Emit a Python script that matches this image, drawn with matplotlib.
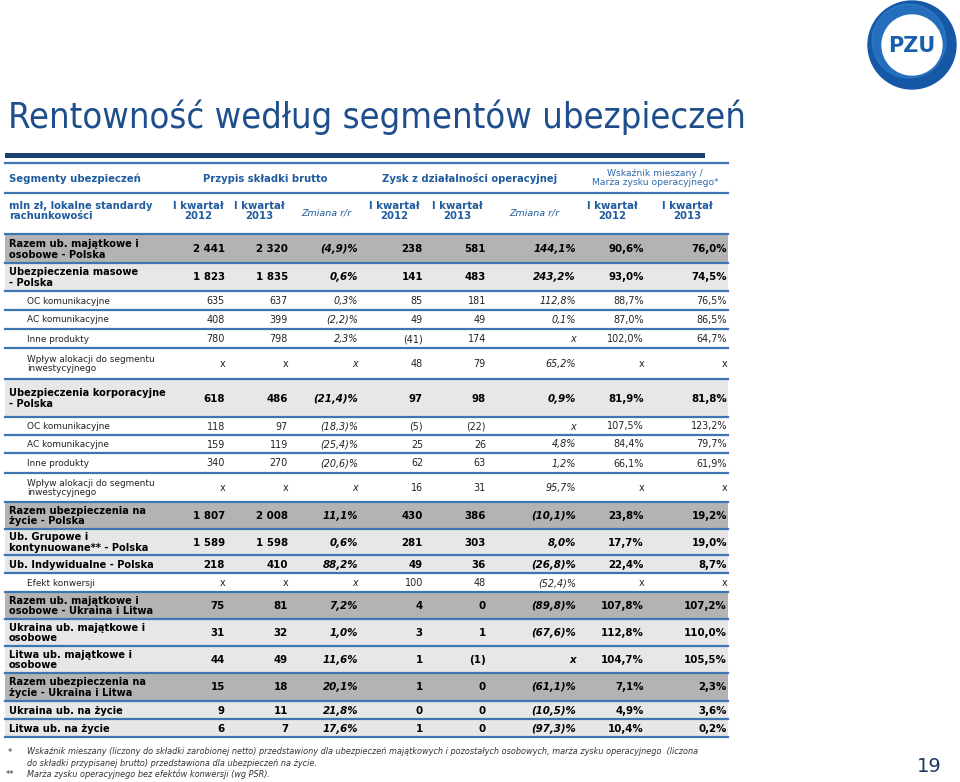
import matplotlib.pyplot as plt
from matplotlib.patches import Rectangle, Circle

# Dane tabeli
labels = [
    "Razem ub. majątkowe i\nosobowe - Polska",
    "Ubezpieczenia masowe\n- Polska",
    "OC komunikacyjne",
    "AC komunikacyjne",
    "Inne produkty",
    "Wpływ alokacji do segmentu\ninwestycyjnego",
    "Ubezpieczenia korporacyjne\n- Polska",
    "OC komunikacyjne",
    "AC komunikacyjne",
    "Inne produkty",
    "Wpływ alokacji do segmentu\ninwestycyjnego",
    "Razem ubezpieczenia na\nżycie - Polska",
    "Ub. Grupowe i\nkontynuowane** - Polska",
    "Ub. Indywidualne - Polska",
    "Efekt konwersji",
    "Razem ub. majątkowe i\nosobowe - Ukraina i Litwa",
    "Ukraina ub. majątkowe i\nosobowe",
    "Litwa ub. majątkowe i\nosobowe",
    "Razem ubezpieczenia na\nżycie - Ukraina i Litwa",
    "Ukraina ub. na życie",
    "Litwa ub. na życie",
]
skladka_2012 = ["2 441", "1 823", "635", "408", "780", "x", "618", "118", "159", "340", "x",
                "1 807", "1 589", "218", "x", "75", "31", "44", "15", "9", "6"]
skladka_2013 = ["2 320", "1 835", "637", "399", "798", "x", "486", "97", "119", "270", "x",
                "2 008", "1 598", "410", "x", "81", "32", "49", "18", "11", "7"]
skladka_zmiana = ["(4,9)%", "0,6%", "0,3%", "(2,2)%", "2,3%", "x", "(21,4)%", "(18,3)%", "(25,4)%",
                  "(20,6)%", "x", "11,1%", "0,6%", "88,2%", "x", "7,2%", "1,0%", "11,6%", "20,1%",
                  "21,8%", "17,6%"]
zysk_2012 = ["238", "141", "85", "49", "(41)", "48", "97", "(5)", "25", "62", "16",
             "430", "281", "49", "100", "4", "3", "1", "1", "0", "1"]
zysk_2013 = ["581", "483", "181", "49", "174", "79", "98", "(22)", "26", "63", "31",
             "386", "303", "36", "48", "0", "1", "(1)", "0", "0", "0"]
zysk_zmiana = ["144,1%", "243,2%", "112,8%", "0,1%", "x", "65,2%", "0,9%", "x", "4,8%", "1,2%",
               "95,7%", "(10,1)%", "8,0%", "(26,8)%", "(52,4)%", "(89,8)%", "(67,6)%", "x",
               "(61,1)%", "(10,5)%", "(97,3)%"]
wskaznik_2012 = ["90,6%", "93,0%", "88,7%", "87,0%", "102,0%", "x", "81,9%", "107,5%", "84,4%",
                 "66,1%", "x", "23,8%", "17,7%", "22,4%", "x", "107,8%", "112,8%", "104,7%",
                 "7,1%", "4,9%", "10,4%"]
wskaznik_2013 = ["76,0%", "74,5%", "76,5%", "86,5%", "64,7%", "x", "81,8%", "123,2%", "79,7%",
                 "61,9%", "x", "19,2%", "19,0%", "8,7%", "x", "107,2%", "110,0%", "105,5%",
                 "2,3%", "3,6%", "0,2%"]
# typ wiersza: d = suma (ciemne tło), l = segment (jasne tło), s = podpozycja
row_type = ["d", "l", "s", "s", "s", "s", "l", "s", "s", "s", "s",
            "d", "l", "l", "s", "d", "l", "l", "d", "l", "l"]

# Układ (piksele)
row_tops = [235, 263, 291, 310, 329, 348, 379, 417, 435, 453, 473,
            502, 529, 555, 573, 592, 619, 646, 673, 701, 719, 737]
col_right = [225, 288, 358, 423, 486, 576, 644, 727]
columns = [skladka_2012, skladka_2013, skladka_zmiana, zysk_2012, zysk_2013, zysk_zmiana,
           wskaznik_2012, wskaznik_2013]

DARK = "#b3b3b3"
LIGHT = "#e7e7e7"
LINE = "#3e76b4"
HEAD = "#1f5b9e"
NAVY = "#1b3f73"

fig = plt.figure(figsize=(9.6, 7.82), dpi=100)
ax = fig.add_axes([0, 0, 1, 1])
ax.set_xlim(0, 960)
ax.set_ylim(782, 0)
ax.axis("off")

# Tytuł
ax.text(8, 128, "Rentowność według segmentów ubezpieczeń", fontsize=26, color="#1f4e8c",
        va="baseline", ha="left", family="DejaVu Sans", fontstretch="condensed")

# Logo PZU
ax.add_patch(Circle((912, 45), 44, color="#1558a6"))
ax.add_patch(Circle((909, 41), 37, color="#3a8bd6", alpha=0.45))
ax.add_patch(Circle((912, 45), 30, color="white"))
ax.text(912, 46, "PZU", fontsize=15, fontweight="bold", color="#1a5fae", ha="center", va="center")

# Nagłówek
ax.add_patch(Rectangle((5, 153), 700, 5, color=NAVY, lw=0))
for y in (163, 193, 234):
    ax.plot([5, 728], [y, y], color=LINE, lw=1.6)

ax.text(9, 179, "Segmenty ubezpieczeń", fontsize=7.3, fontweight="bold", color=HEAD, va="center")
ax.text(265, 179, "Przypis składki brutto", fontsize=7.2, fontweight="bold", color=HEAD,
        va="center", ha="center")
ax.text(470, 179, "Zysk z działalności operacyjnej", fontsize=7.2, fontweight="bold", color=HEAD,
        va="center", ha="center")
ax.text(655, 178, "Wskaźnik mieszany /\nMarża zysku operacyjnego*", fontsize=6.6, color="#2e69a8",
        va="center", ha="center", linespacing=1.05)
ax.text(9, 211, "mln zł, lokalne standardy\nrachunkowości", fontsize=7.2, fontweight="bold",
        color=HEAD, va="center", linespacing=1.1)
sub_heads = [(198, "I kwartał\n2012"), (259, "I kwartał\n2013"), (326, "Zmiana r/r"),
             (394, "I kwartał\n2012"), (457, "I kwartał\n2013"), (534, "Zmiana r/r"),
             (612, "I kwartał\n2012"), (687, "I kwartał\n2013")]
for x, t in sub_heads:
    if t.startswith("Zmiana"):
        ax.text(x, 213, t, fontsize=6.8, style="italic", color=HEAD, ha="center", va="center")
    else:
        ax.text(x, 211, t, fontsize=7.3, fontweight="bold", color=HEAD, ha="center", va="center",
                linespacing=1.1)

# Wiersze tabeli
for i, lab in enumerate(labels):
    top, bot = row_tops[i], row_tops[i + 1]
    yc = (top + bot) / 2 + 0.5
    kind = row_type[i]
    if kind == "d":
        ax.add_patch(Rectangle((5, top), 723, bot - top, color=DARK, lw=0))
    elif kind == "l":
        ax.add_patch(Rectangle((5, top), 723, bot - top, color=LIGHT, lw=0))
    ax.plot([5, 728], [bot, bot], color=LINE, lw=1.6)

    if kind == "s":
        ax.text(27, yc, lab, fontsize=6.4, color="#222222", va="center", linespacing=1.05)
        fs, fw, col = 6.9, "normal", "#222222"
    else:
        ax.text(9, yc, lab, fontsize=7.1, fontweight="bold", color="black", va="center",
                linespacing=1.05)
        fs, fw, col = 7.4, "bold", "black"
    for j, vals in enumerate(columns):
        st = "italic" if j in (2, 5) else "normal"
        ax.text(col_right[j], yc, vals[i], fontsize=fs, fontweight=fw, style=st, color=col,
                ha="right", va="center")

# Przypisy
ax.text(8, 752, "*", fontsize=6, color="#333333", va="center")
ax.text(27, 751, "Wskaźnik mieszany (liczony do składki zarobionej netto) przedstawiony dla ubezpieczeń "
        "majątkowych i pozostałych osobowych, marża zysku operacyjnego  (liczona", fontsize=5.9,
        style="italic", color="#333333", va="center")
ax.text(27, 763, "do składki przypisanej brutto) przedstawiona dla ubezpieczeń na życie.", fontsize=5.9,
        style="italic", color="#333333", va="center")
ax.text(6, 775, "**", fontsize=6, color="#333333", va="center")
ax.text(27, 774, "Marża zysku operacyjnego bez efektów konwersji (wg PSR).", fontsize=5.9,
        style="italic", color="#333333", va="center")

ax.text(942, 766, "19", fontsize=14, color="#1f3864", ha="right", va="center")

fig.savefig("out.png", dpi=100)
